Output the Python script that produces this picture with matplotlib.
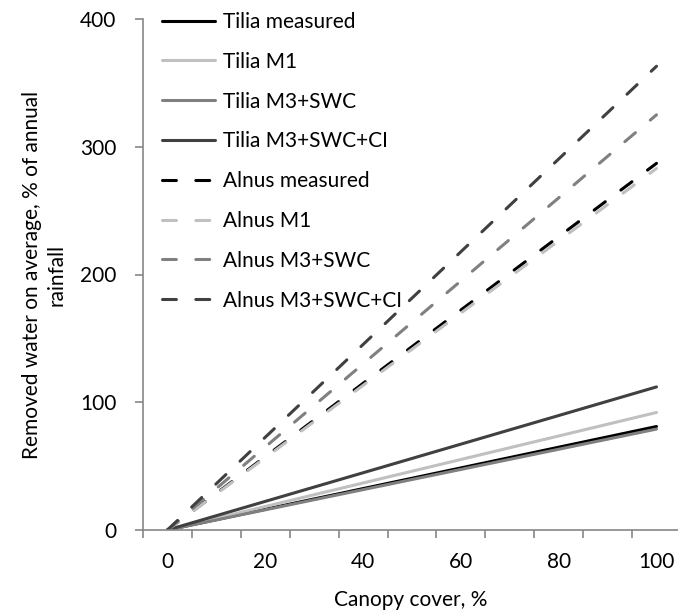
import matplotlib
matplotlib.use("Agg")
import matplotlib.pyplot as plt

plt.rcParams['font.family'] = ['Lato', 'DejaVu Sans']
plt.rcParams['lines.scale_dashes'] = False

x = [0, 100]
series_names = ["Tilia measured", "Tilia M1", "Tilia M3+SWC", "Tilia M3+SWC+CI",
                "Alnus measured", "Alnus M1", "Alnus M3+SWC", "Alnus M3+SWC+CI"]
tilia_measured = [0, 81]
tilia_m1 = [0, 92]
tilia_m3swc = [0, 79]
tilia_m3swcci = [0, 112]
alnus_measured = [0, 287]
alnus_m1 = [0, 283]
alnus_m3swc = [0, 325]
alnus_m3swcci = [0, 363]

x_tick_labels = [0, 20, 40, 60, 80, 100]
y_ticks = [0, 100, 200, 300, 400]

colors = ["#000000", "#c0c0c0", "#808080", "#404040"]

FS = 15

fig = plt.figure(figsize=(6.78, 6.11), dpi=100)
ax = fig.add_axes([143/678, 81/611, 535/678, 511/611])

data = [tilia_measured, tilia_m1, tilia_m3swc, tilia_m3swcci,
        alnus_measured, alnus_m1, alnus_m3swc, alnus_m3swcci]
for i, (name, vals) in enumerate(zip(series_names, data)):
    c = colors[i % 4]
    if i < 4:
        ax.plot(x, vals, color=c, lw=2.2, solid_capstyle='round', label=name)
    else:
        ax.plot(x, vals, color=c, lw=2.2, dash_capstyle='round',
                dashes=(10, 14), label=name)

ax.set_xlim(-5, 104.4)
ax.set_ylim(0, 400)
ax.set_yticks(y_ticks)
ax.set_xticks([-5 + 10 * k for k in range(11)])
ax.set_xticklabels([])
ax.set_xticks(x_tick_labels, minor=True)
ax.set_xticklabels([str(v) for v in x_tick_labels], minor=True)
ax.tick_params(axis='x', which='minor', length=0, pad=16, labelsize=FS)
ax.tick_params(axis='x', which='major', length=6, width=1.2, color='#868686', direction='out')
ax.tick_params(axis='y', length=6, width=1.2, color='#868686', direction='out', pad=13, labelsize=FS)

for s in ['top', 'right']:
    ax.spines[s].set_visible(False)
for s in ['left', 'bottom']:
    ax.spines[s].set_color('#868686')
    ax.spines[s].set_linewidth(1.2)

ax.set_xlabel("Canopy cover, %", fontsize=FS, labelpad=13)
ax.set_ylabel("Removed water on average, % of annual\nrainfall", fontsize=FS,
              linespacing=1.3)
ax.yaxis.set_label_coords(-0.143, 0.5)

leg = ax.legend(loc='upper left', bbox_to_anchor=(162/678, 1 - 12/611),
                bbox_transform=fig.transFigure, frameon=False, fontsize=FS,
                handlelength=2.55, handletextpad=0.4, labelspacing=0.95,
                borderaxespad=0, borderpad=0)

fig.savefig("out.png", dpi=100)
